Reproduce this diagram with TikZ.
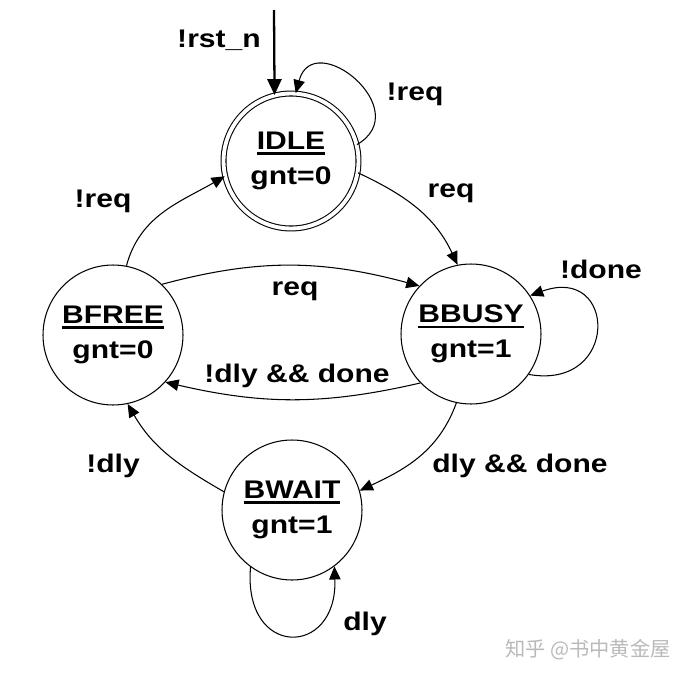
\documentclass[tikz,border=0pt]{standalone}
\usepackage{fontspec}
\setmainfont{Liberation Sans}[FakeStretch=1.18]
\newfontfamily\cjkfont{Noto Sans CJK SC}
\usetikzlibrary{arrows.meta}
\newcommand\stname[1]{\setbox0=\hbox{#1}\leavevmode\rlap{\rule[-3pt]{\wd0}{1.3pt}}\box0}

\begin{document}
\begin{tikzpicture}[x=0.02cm,y=0.02cm,line width=0.6pt,
  state/.style={draw,circle,minimum size=2.8cm,inner sep=0pt,align=center,
    font=\fontsize{14.5}{20}\selectfont\bfseries},
  lbl/.style={anchor=base,font=\fontsize{14.5}{17}\selectfont\bfseries},
  tr/.style={-{Triangle[length=7.5pt,width=6.5pt]}}]
\useasboundingbox (0,0) rectangle (690,-676);
\node[state,double,double distance=2.2pt,minimum size=2.7cm] (idle) at (291,-161) {\stname{IDLE}\\gnt=0};
\node[state] (bfree) at (113,-335) {\stname{BFREE}\\gnt=0};
\node[state] (bbusy) at (471,-334) {\stname{BBUSY}\\gnt=1};
\node[state] (bwait) at (292,-510) {\stname{BWAIT}\\gnt=1};
\coordinate (rst) at (274,-10);
\draw[-{Triangle[length=9pt,width=8pt]},line width=1.3pt] (rst) -- (idle.104);
\draw[tr] (idle.14) to[out=30,in=75,looseness=2.2] (idle.86);
\draw[tr] (idle.-10) to[out=-25,in=115] (bbusy.101);
\draw[tr] (bfree.79) to[out=75,in=210] (idle.193);
\draw[tr] (bfree.46) to[out=15,in=165] (bbusy.137);
\draw[tr] (bbusy.224) to[out=193,in=-13] (bfree.-42);
\draw[tr] (bbusy.-35) to[out=-10,in=20,looseness=3] (bbusy.33);
\draw[tr] (bbusy.258) to[out=250,in=25] (bwait.16);
\draw[tr] (bwait.165) to[out=150,in=-60] (bfree.282);
\draw[tr] (bwait.234) to[out=-95,in=-88,looseness=2.8] (bwait.-53);
\node[lbl] (lrst) at (219,-48) {!rst\_n};
\node[lbl] (lidle) at (415,-100) {!req};
\node[lbl] (lreq) at (451,-197) {req};
\node[lbl] (lback) at (103,-207) {!req};
\node[lbl] (lgo) at (295,-295) {req};
\node[lbl] (ldone) at (601,-278) {!done};
\node[lbl] (lfree) at (297,-382) {!dly \&\& done};
\node[lbl] (lwait) at (520,-472) {dly \&\& done};
\node[lbl] (lndly) at (113,-472) {!dly};
\node[lbl] (ldly) at (365,-630) {dly};
\node[font=\cjkfont\fontsize{11.5}{14}\selectfont,text=gray!55] (mark) at (588,-650) {知乎 @书中黄金屋};
\end{tikzpicture}
\end{document}
